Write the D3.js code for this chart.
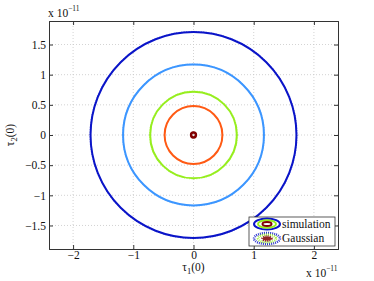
<html>
<head>
<script src="https://cdn.jsdelivr.net/npm/d3@7"></script>
<style>
  body { margin: 0; background: #fff; }
  text { font-family: "Liberation Serif", "Times New Roman", serif; }
</style>
</head>
<body>
<div id="content"></div>
<script>
  // contour levels, values in units of 1e-11
  contourColors = ["#0a14c8", "#3c96ff", "#96ee1e", "#ff5a14", "#800000"]
  simRadii = [1.71, 1.17, 0.72, 0.48, 0.04]
  gaussRadii = [1.72, 1.18, 0.73, 0.48, 0.05]
  xTicks = [-2, -1, 0, 1, 2]
  yTicks = [-1.5, -1, -0.5, 0, 0.5, 1, 1.5]
  legendLabels = ["simulation", "Gaussian"]

  width = 374
  height = 281
  margin = {left: 49, right: 36, top: 21, bottom: 32}
  fs = 11.5

  const svg = d3.select("#content").append("svg")
    .attr("width", width).attr("height", height)

  const x = d3.scaleLinear().domain([-2.4, 2.4]).range([margin.left, width - margin.right])
  const y = d3.scaleLinear().domain([-1.89, 1.89]).range([height - margin.bottom, margin.top])

  const grid = svg.append("g").attr("stroke", "#c8c8c8").attr("stroke-dasharray", "1,2").attr("stroke-width", 0.8)
  grid.selectAll(".gx").data(xTicks).join("line")
    .attr("x1", d => x(d)).attr("x2", d => x(d)).attr("y1", y.range()[0]).attr("y2", y.range()[1])
  grid.selectAll(".gy").data(yTicks).join("line")
    .attr("y1", d => y(d)).attr("y2", d => y(d)).attr("x1", x.range()[0]).attr("x2", x.range()[1])

  const plot = svg.append("g")
  const cx = x(0), cy = y(0)
  // gaussian contours (dotted, underneath)
  plot.selectAll(".gauss").data(gaussRadii).join("circle")
    .attr("cx", cx).attr("cy", cy)
    .attr("r", d => x(d) - x(0))
    .attr("fill", "none")
    .attr("stroke", (d, i) => contourColors[i])
    .attr("stroke-width", 1)
    .attr("stroke-dasharray", "1,1.5")
    .attr("opacity", 0.6)
  // simulation contours
  plot.selectAll(".sim").data(simRadii).join("circle")
    .attr("cx", cx).attr("cy", cy)
    .attr("r", d => x(d) - x(0))
    .attr("fill", "none")
    .attr("stroke", (d, i) => contourColors[i])
    .attr("stroke-width", (d, i) => i == 4 ? 2.5 : 2)

  // axes box
  const minus = d => String(d).replace("-", "\u2212")
  const xb = d3.axisBottom(x).tickValues(xTicks).tickSize(-4).tickPadding(2).tickFormat(minus)
  const xt = d3.axisTop(x).tickValues(xTicks).tickSize(-4).tickFormat("")
  const yl = d3.axisLeft(y).tickValues(yTicks).tickSize(-4).tickPadding(3).tickFormat(minus)
  const yr = d3.axisRight(y).tickValues(yTicks).tickSize(-4).tickFormat("")

  function style(g) {
    g.attr("font-size", null).attr("font-family", null)
    g.select(".domain").attr("stroke", "#333").attr("stroke-width", 1)
    g.selectAll(".tick line").attr("stroke", "#333")
    g.selectAll("text").attr("fill", "#111").style("font-size", fs + "px")
  }
  svg.append("g").attr("transform", `translate(0,${y.range()[0]})`).call(xb).call(style)
  svg.append("g").attr("transform", `translate(0,${y.range()[1]})`).call(xt).call(style)
  svg.append("g").attr("transform", `translate(${x.range()[0]},0)`).call(yl).call(style)
  svg.append("g").attr("transform", `translate(${x.range()[1]},0)`).call(yr).call(style)

  // exponent labels
  function expLabel(px, py) {
    const t = svg.append("text").attr("x", px).attr("y", py).style("font-size", fs + "px").attr("fill", "#111")
    t.append("tspan").text("x 10")
    t.append("tspan").attr("dy", -6).style("font-size", "7.5px").text("\u221211")
  }
  expLabel(48, 17)
  expLabel(306, 277)

  // axis labels
  const xl = svg.append("text").attr("x", x(0)).attr("y", 271).attr("text-anchor", "middle")
    .style("font-size", fs + "px").attr("fill", "#111")
  xl.append("tspan").text("\u03c4")
  xl.append("tspan").attr("dy", 3).style("font-size", "8.5px").text("1")
  xl.append("tspan").attr("dy", -3).text("(0)")

  const ylab = svg.append("text").attr("transform", `translate(14,${y(0)}) rotate(-90)`)
    .attr("text-anchor", "middle").style("font-size", fs + "px").attr("fill", "#111")
  ylab.append("tspan").text("\u03c4")
  ylab.append("tspan").attr("dy", 3).style("font-size", "8.5px").text("2")
  ylab.append("tspan").attr("dy", -3).text("(0)")

  // legend
  const lg = svg.append("g").attr("transform", "translate(249,217)")
  lg.append("rect").attr("width", 86).attr("height", 29).attr("fill", "#fff").attr("stroke", "#333").attr("stroke-width", 0.8)
  const iconR = [[13, 5.5], [9, 3.8], [4.5, 2]]
  const iconC = [contourColors[0], contourColors[2], contourColors[4]]
  lg.selectAll(".si").data(iconR).join("ellipse")
    .attr("cx", 18).attr("cy", 7).attr("rx", d => d[0]).attr("ry", d => d[1])
    .attr("fill", "none").attr("stroke", (d, i) => iconC[i]).attr("stroke-width", 2)
  lg.selectAll(".gi").data(iconR).join("ellipse")
    .attr("cx", 18).attr("cy", 21.5).attr("rx", d => d[0]).attr("ry", d => d[1])
    .attr("fill", (d, i) => i == 2 ? iconC[i] : "none").attr("stroke", (d, i) => iconC[i])
    .attr("stroke-width", 2.5).attr("stroke-dasharray", "1,1").attr("opacity", 0.85)
  lg.selectAll(".lt").data(legendLabels).join("text")
    .attr("x", 33).attr("y", (d, i) => 11 + i * 13.5)
    .style("font-size", fs + "px").attr("fill", "#111").text(d => d)
</script>
</body>
</html>
